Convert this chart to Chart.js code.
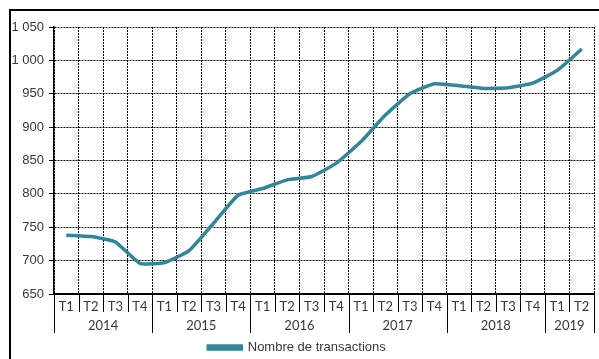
<!DOCTYPE html>
<html>
<head>
<meta charset="utf-8">
<script src="https://cdn.jsdelivr.net/npm/chart.js@4/dist/chart.umd.min.js"></script>
<style>
  html, body { margin: 0; padding: 0; background: #fff; }
  #wrap { width: 599px; height: 359px; }
</style>
</head>
<body>
<div id="wrap"><canvas id="txChart" width="599" height="359"></canvas></div>
<script>
const quarters = ['T1','T2','T3','T4','T1','T2','T3','T4','T1','T2','T3','T4',
                  'T1','T2','T3','T4','T1','T2','T3','T4','T1','T2'];
const years = ['2014','2015','2016','2017','2018','2019'];
const quartersPerYear = [4, 4, 4, 4, 4, 2];
const transactions = [738, 736, 728, 696, 697, 715, 756, 798, 808, 821, 826, 846,
                      878, 918, 950, 965, 962, 958, 959, 966, 985, 1017];

const lineColor = '#2f8797';
const textColor = '#383838';

function frNumber(v) {
  if (v >= 1000) return Math.floor(v / 1000) + ' ' + String(v % 1000).padStart(3, '0');
  return String(v);
}

// cadre + séparateurs des trimestres/années sous l'axe
const groupAxis = {
  id: 'groupAxis',
  beforeDraw(chart) {
    const c = chart.ctx;
    c.save();
    c.strokeStyle = '#000';
    c.lineWidth = 2;
    c.beginPath();
    c.moveTo(10, chart.height);
    c.lineTo(10, 10);
    c.lineTo(chart.width, 10);
    c.stroke();
    c.restore();
  },
  afterDraw(chart) {
    const x = chart.scales.x;
    const bottom = chart.chartArea.bottom;
    const half = (x.getPixelForValue(1) - x.getPixelForValue(0)) / 2;
    const c = chart.ctx;
    c.save();
    c.strokeStyle = '#000';
    c.lineWidth = 1;
    // séparateurs courts entre trimestres
    for (let i = 0; i <= quarters.length; i++) {
      const px = Math.round(x.getPixelForValue(i) - half) + 0.5;
      c.beginPath();
      c.moveTo(px, bottom);
      c.lineTo(px, bottom + 18);
      c.stroke();
    }
    // séparateurs longs + libellés des années
    let start = 0;
    c.font = '13px Lato, "Liberation Sans", sans-serif';
    c.fillStyle = textColor;
    c.textAlign = 'center';
    c.textBaseline = 'middle';
    years.forEach((y, k) => {
      const end = start + quartersPerYear[k];
      const x0 = x.getPixelForValue(start) - half;
      const x1 = x.getPixelForValue(end - 1) + half;
      [x0, x1].forEach(p => {
        const px = Math.round(p) + 0.5;
        c.beginPath();
        c.moveTo(px, bottom);
        c.lineTo(px, bottom + 39);
        c.stroke();
      });
      c.fillText(y, (x0 + x1) / 2, bottom + 32);
      start = end;
    });
    c.restore();
  }
};

new Chart(document.getElementById('txChart'), {
  type: 'line',
  data: {
    labels: quarters,
    datasets: [{
      label: 'Nombre de transactions',
      data: transactions,
      borderColor: lineColor,
      backgroundColor: lineColor,
      borderWidth: 3.5,
      pointRadius: 0,
      tension: 0.15,
      fill: false
    }]
  },
  options: {
    responsive: false,
    animation: false,
    devicePixelRatio: 1,
    layout: { padding: { left: 0, top: 27, right: 5, bottom: 0 } },
    plugins: {
      title: { display: false },
      tooltip: { enabled: false },
      legend: {
        position: 'bottom',
        maxHeight: 18,
        labels: {
          boxWidth: 33,
          boxHeight: 3,
          padding: 0,
          color: textColor,
          font: { family: '"Liberation Sans", Arial, sans-serif', size: 13 }
        }
      }
    },
    scales: {
      x: {
        offset: true,
        grid: {
          offset: true,
          color: '#000',
          lineWidth: 1,
          drawTicks: false
        },
        border: { display: true, color: '#000', width: 2, dash: [2, 1] },
        ticks: {
          color: textColor,
          padding: 5,
          maxRotation: 0,
          autoSkip: false,
          font: { family: 'Lato, "Liberation Sans", sans-serif', size: 13 }
        },
        afterFit(scale) { scale.height = 47; }
      },
      y: {
        min: 650,
        max: 1050,
        grid: {
          color: '#000',
          lineWidth: 1,
          tickLength: 5
        },
        border: { display: true, color: '#000', width: 1.5, dash: [2, 1] },
        ticks: {
          stepSize: 50,
          padding: 5,
          color: textColor,
          font: { family: '"Liberation Sans", Arial, sans-serif', size: 13 },
          callback: v => frNumber(v)
        },
        afterFit(scale) { scale.width = 54; }
      }
    }
  },
  plugins: [groupAxis]
});
</script>
</body>
</html>
